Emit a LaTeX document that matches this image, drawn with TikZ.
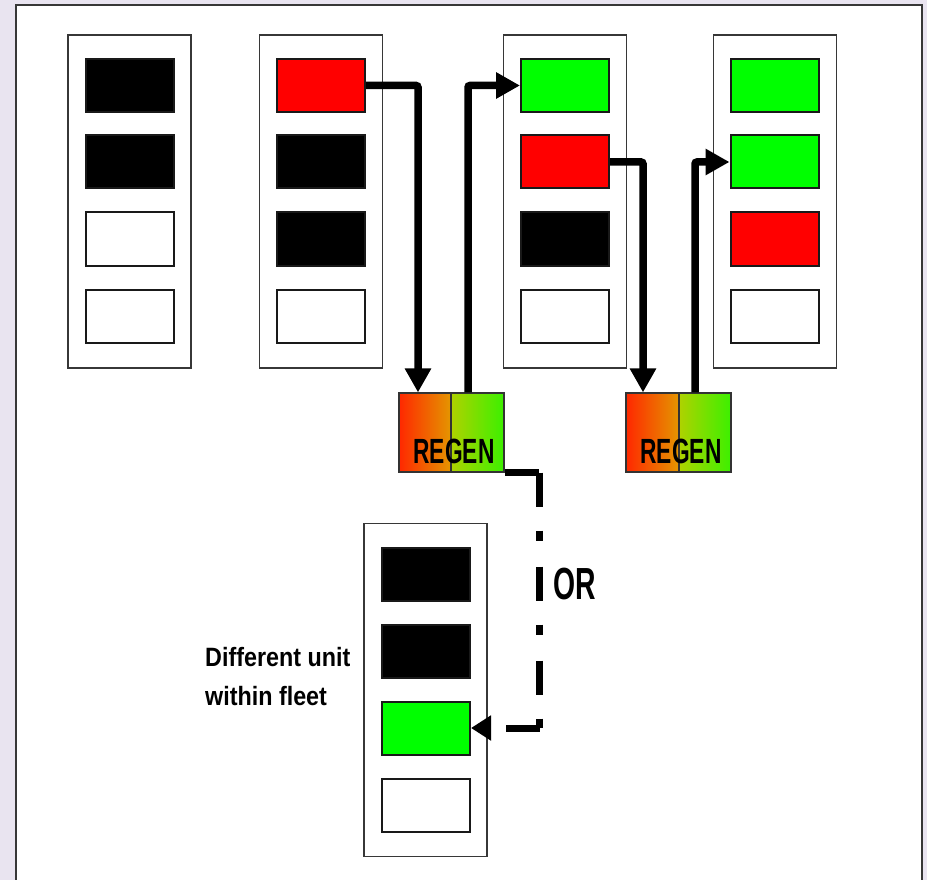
\documentclass[tikz,border=0pt]{standalone}
\usepackage{fontspec}
\setmainfont{Liberation Sans}
\usepackage{graphicx}
\usetikzlibrary{arrows.meta}
\definecolor{slidebg}{RGB}{233,228,240}
\definecolor{regenred}{RGB}{255,40,0}
\definecolor{regenorange}{RGB}{228,150,0}
\definecolor{regenlime}{RGB}{175,210,0}
\definecolor{regengreen}{RGB}{60,240,0}
\definecolor{rackline}{RGB}{55,55,55}

\tikzset{
  rack/.style={draw=rackline, line width=1.8pt, fill=white, minimum width=123pt, minimum height=333pt, inner sep=0pt},
  slot/.style={draw=black!90, line width=2pt, minimum width=88pt, minimum height=53pt, inner sep=0pt, fill=white},
  dead/.style={slot, fill=black},
  fault/.style={slot, fill=red},
  fresh/.style={slot, fill=green},
  half/.style={draw=black!80, line width=1.2pt, minimum height=79pt, inner sep=0pt},
  flow/.style={line width=7.5pt, rounded corners=2pt, -{Triangle[length=24pt,width=25pt]}},
  maybe/.style={line width=7pt, dash pattern=on 34pt off 24pt on 10pt off 26pt},
  tag/.style={inner sep=0pt, font=\bfseries}
}

\begin{document}
\begin{tikzpicture}[x=1pt,y=-1pt]
        \useasboundingbox (0,0) rectangle (927,880);
        \fill[slidebg] (0,0) rectangle (927,880);
        \draw[rackline, line width=1.8pt, fill=white] (16,5) rectangle (922,886);

        % units before and after the swap
        \node[rack] (u1) at (129.5,201.5) {};
        \node[dead] (a1) at (129.5,85.5) {};
        \node[dead] (a2) at (129.5,162) {};
        \node[slot] (a3) at (129.5,239) {};
        \node[slot] (a4) at (129.5,316) {};

        \node[rack] (u2) at (321,201.5) {};
        \node[fault] (b1) at (321,85.5) {};
        \node[dead] (b2) at (321,162) {};
        \node[dead] (b3) at (321,239) {};
        \node[slot] (b4) at (321,316) {};

        \node[rack] (u3) at (565,201.5) {};
        \node[fresh] (c1) at (565,85.5) {};
        \node[fault] (c2) at (565,162) {};
        \node[dead] (c3) at (565,239) {};
        \node[slot] (c4) at (565,316) {};

        \node[rack] (u4) at (775,201.5) {};
        \node[fresh] (d1) at (774.5,85.5) {};
        \node[fresh] (d2) at (774.5,162) {};
        \node[fault] (d3) at (774.5,239) {};
        \node[slot] (d4) at (774.5,316) {};

        \node[rack] (u5) at (425.5,690) {};
        \node[dead] (e1) at (426,574.5) {};
        \node[dead] (e2) at (426,651) {};
        \node[fresh] (e3) at (426,728) {};
        \node[slot] (e4) at (426,805) {};

        % regen stations
        \node[half, minimum width=52pt, left color=regenred, right color=regenorange] (re1) at (425,432.5) {};
        \node[half, minimum width=53pt, left color=regenlime, right color=regengreen] (gen1) at (477.5,432.5) {};
        \node[half, minimum width=53pt, left color=regenred, right color=regenorange] (re2) at (652.5,432.5) {};
        \node[half, minimum width=52pt, left color=regenlime, right color=regengreen] (gen2) at (705,432.5) {};
        \node[tag, anchor=base] (regen1) at (454,463) {\fontsize{35}{40}\selectfont\scalebox{0.65}[1]{REGEN}};
        \node[tag, anchor=base] (regen2) at (681,463) {\fontsize{35}{40}\selectfont\scalebox{0.65}[1]{REGEN}};

        \draw[flow] (b1.east) -| ([xshift=-7pt]re1.north);
        \draw[flow] ([xshift=-9.5pt]gen1.north) |- (c1.west);
        \draw[flow] (c2.east) -| ([xshift=-9.5pt]re2.north);
        \draw[flow] ([xshift=-10pt]gen2.north) |- (d2.west);

        % other unit route
        \coordinate (bend1) at ([xshift=35pt]gen1.south east);
        \coordinate (bend2) at (bend1 |- e3.east);
        \draw[maybe] (gen1.south east) -- (bend1);
        \draw[maybe] (bend1) -- (bend2);
        \draw[maybe, -{Triangle[length=20pt,width=24pt]}] (bend2) -- (e3.east);
        \node[tag, anchor=base west] (ortext) at (553,599) {\fontsize{45}{50}\selectfont\scalebox{0.63}[1]{OR}};
        \node[tag, anchor=base west] (fleetnote) at (205,666) {\fontsize{26.5}{39}\selectfont\scalebox{0.88}[1]{\begin{tabular}[t]{@{}l@{}}Different unit\\ within fleet\end{tabular}}};
    \end{tikzpicture}
\end{document}
